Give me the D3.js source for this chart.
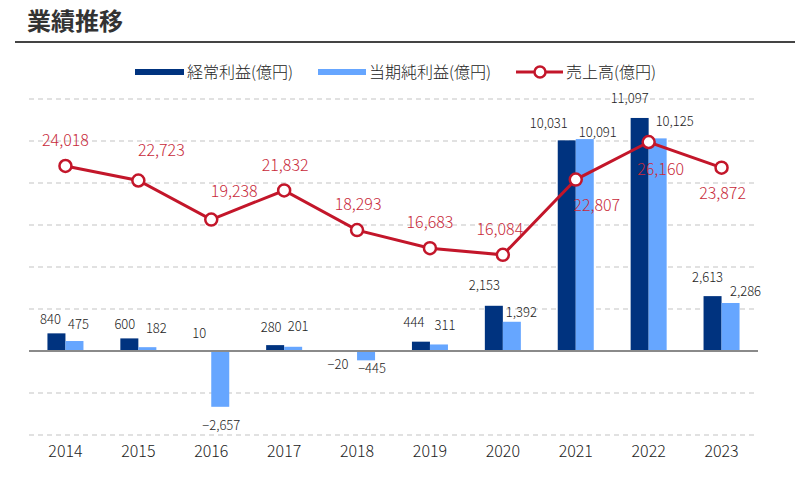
<!DOCTYPE html>
<html><head><meta charset="utf-8">
<script src="https://cdn.jsdelivr.net/npm/d3@7"></script>
<style>
body{margin:0;background:#fff;}
svg{display:block;font-family:"Noto Sans CJK JP","Noto Sans",sans-serif;}
</style></head>
<body><svg id="c" width="795" height="482"></svg>
<script>
const years = ["2014","2015","2016","2017","2018","2019","2020","2021","2022","2023"];
const ordinaryProfit = [840, 600, 10, 280, -20, 444, 2153, 10031, 11097, 2613];
const netProfit = [475, 182, -2657, 201, -445, 311, 1392, 10091, 10125, 2286];
const sales = [24018, 22723, 19238, 21832, 18293, 16683, 16084, 22807, 26160, 23872];
const seriesNames = ["経常利益(億円)", "当期純利益(億円)", "売上高(億円)"];
const titleText = "業績推移";

// label placement tweaks (px), kept apart from the data
const opLabelShift = [[-6,-14],[-4.5,-14],[-3,-17],[-4,-18],[-10,13],[-7,-19],[-9.5,-20],[-18,-17],[-10,-20],[-5,-19]];
const netLabelShift = [[4,-17],[9,-19],[1,19],[5,-20],[6,8],[6,-19],[9.5,-9.5],[13,-7],[17,-17],[15,-12]];
const salesLabelShift = [[0,-26],[23,-30],[23,-28],[1,-25.5],[1,-26],[0,-25.5],[-3,-25.5],[21,25.5],[12,27],[1,26]];

const C_DARK = "#00337f", C_LIGHT = "#66a6ff", C_RED = "#c3162a";
const svg = d3.select("#c");

// title
svg.append("text").attr("x", 27).attr("y", 30).text(titleText)
  .attr("font-size", 24).attr("font-weight", "bold").attr("fill", "#333");
svg.append("line").attr("x1", 15).attr("x2", 795).attr("y1", 42).attr("y2", 42)
  .attr("stroke", "#444").attr("stroke-width", 2);

const x = d3.scaleBand().domain(years).range([29, 758]).padding(0);
const bw = x.bandwidth();
const inner = d3.scaleBand().domain(["op","net"]).range([bw*0.253, bw*0.747]);
const yBar = d3.scaleLinear().domain([-4000, 12000]).range([435, 99]);
const ySales = d3.scaleLinear().domain([0, 30000]).range([435, 99]);
const fmt = d3.format(",");

// grid
const grid = svg.append("g");
yBar.ticks(8).filter(t => t !== 0).forEach(t => {
  grid.append("line").attr("x1", 29).attr("x2", 758).attr("y1", yBar(t)).attr("y2", yBar(t))
    .attr("stroke", "#c4c4c4").attr("stroke-width", 1.2).attr("stroke-dasharray", "5,4");
});

// bars
const bars = svg.append("g");
years.forEach((yr, i) => {
  [["op", ordinaryProfit[i], C_DARK], ["net", netProfit[i], C_LIGHT]].forEach(([k, v, col]) => {
    bars.append("rect").attr("x", x(yr) + inner(k)).attr("width", inner.bandwidth())
      .attr("y", Math.min(yBar(v), yBar(0))).attr("height", Math.abs(yBar(v) - yBar(0)))
      .attr("fill", col);
  });
});
// zero line
svg.append("line").attr("x1", 29).attr("x2", 758).attr("y1", yBar(0)).attr("y2", yBar(0))
  .attr("stroke", "#8a8a8a").attr("stroke-width", 2);

// x axis
const xAxis = svg.append("g").attr("transform", "translate(0,435)")
  .call(d3.axisBottom(x).tickSize(0).tickPadding(11));
xAxis.select(".domain").remove();
xAxis.selectAll("text").attr("font-size", 16).attr("fill", "#222").attr("font-weight", 300)
  .attr("font-family", "'Noto Sans CJK JP', sans-serif");

// sales line
const cx = i => x(years[i]) + bw / 2;
svg.append("path").datum(sales)
  .attr("d", d3.line().x((d, i) => cx(i)).y(d => ySales(d)))
  .attr("fill", "none").attr("stroke", C_RED).attr("stroke-width", 3);
svg.append("g").selectAll("circle").data(sales).join("circle")
  .attr("cx", (d, i) => cx(i)).attr("cy", d => ySales(d)).attr("r", 6)
  .attr("fill", "#fff").attr("stroke", C_RED).attr("stroke-width", 2.5);

// bar labels
const lab = svg.append("g").attr("font-size", 13).attr("font-weight", 300).attr("fill", "#222").attr("text-anchor", "middle");
years.forEach((yr, i) => {
  [["op", ordinaryProfit[i], opLabelShift[i]], ["net", netProfit[i], netLabelShift[i]]].forEach(([k, v, s]) => {
    lab.append("text").attr("x", x(yr) + inner(k) + inner.bandwidth() / 2 + s[0])
      .attr("y", yBar(v) + s[1]).attr("dy", "0.35em").text(fmt(v));
  });
});
// sales labels
svg.append("g").attr("font-size", 16).attr("font-weight", 300).attr("fill", "#c82a3a").attr("text-anchor", "middle")
  .selectAll("text").data(sales).join("text")
  .attr("x", (d, i) => cx(i) + salesLabelShift[i][0])
  .attr("y", (d, i) => ySales(d) + salesLabelShift[i][1])
  .attr("dy", "0.35em").text(d => fmt(d));

// legend
const lg = svg.append("g").attr("font-size", 16).attr("font-weight", 300).attr("fill", "#222");
lg.append("rect").attr("x", 135).attr("y", 69).attr("width", 49).attr("height", 6).attr("fill", C_DARK);
lg.append("text").attr("x", 187).attr("y", 72).attr("dy", "0.35em").text(seriesNames[0]);
lg.append("rect").attr("x", 318).attr("y", 69).attr("width", 48).attr("height", 6).attr("fill", C_LIGHT);
lg.append("text").attr("x", 369).attr("y", 72).attr("dy", "0.35em").text(seriesNames[1]);
lg.append("line").attr("x1", 516).attr("x2", 563).attr("y1", 72).attr("y2", 72).attr("stroke", C_RED).attr("stroke-width", 3);
lg.append("circle").attr("cx", 540).attr("cy", 72).attr("r", 5.5).attr("fill", "#fff").attr("stroke", C_RED).attr("stroke-width", 2.5);
lg.append("text").attr("x", 566).attr("y", 72).attr("dy", "0.35em").text(seriesNames[2]);
</script>
</body></html>
